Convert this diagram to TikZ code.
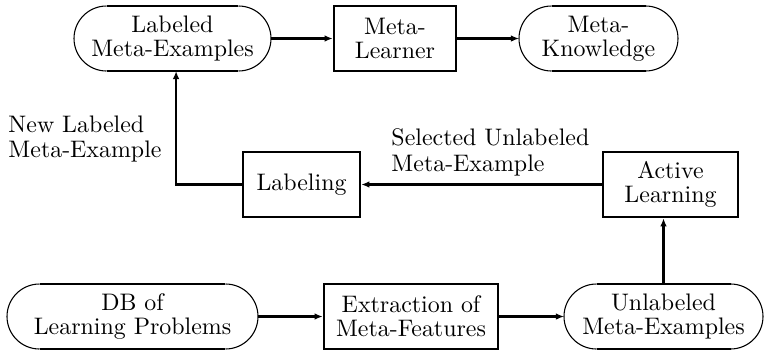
\documentclass[tikz,border=0pt]{standalone}
\usetikzlibrary{arrows.meta}
\def\u{0.4184pt}
\tikzset{
  txt/.style={font=\fontsize{10}{10.2}\selectfont, align=center},
  capsule/.style={txt, shape=rectangle, draw=none, minimum height=65*\u, outer sep=0pt, inner sep=2pt},
  boxnode/.style={txt, shape=rectangle, draw, line width=1.1pt, minimum height=65*\u, inner sep=2pt},
  thinline/.style={line width=0.45pt},
  thickline/.style={line width=1.1pt},
  arrow/.style={line width=1pt, -{Latex[length=3.4pt,width=2.8pt]}},
  lbl/.style={font=\fontsize{10}{10.6}\selectfont, align=left, inner sep=0pt, anchor=north west}
}
\newcommand\capsuleshape[1]{%
  \draw[thinline] ([xshift=13.6pt]#1.north west) arc[start angle=90,end angle=270,radius=13.6pt];
  \draw[thinline] ([xshift=-13.6pt]#1.south east) arc[start angle=-90,end angle=90,radius=13.6pt];
  \draw[thickline] ([xshift=13.6pt]#1.north west) -- ([xshift=-13.6pt]#1.north east);
  \draw[thickline] ([xshift=13.6pt]#1.south west) -- ([xshift=-13.6pt]#1.south east);
}
\begin{document}
\begin{tikzpicture}[x=\u,y=\u]
\useasboundingbox (0,0) rectangle (767,-351);
% nodes
\node[capsule, minimum width=197*\u] (lme) at (172.5,-38.5) {Labeled\\Meta-Examples};
\node[boxnode, minimum width=122*\u] (ml) at (395,-38.5) {Meta-\\Learner};
\node[capsule, minimum width=159*\u] (mk) at (598.5,-38.5) {Meta-\\Knowledge};
\node[boxnode, minimum width=117*\u] (lab) at (301.5,-184.5) {Labeling};
\node[boxnode, minimum width=135*\u] (al) at (670.5,-184.5) {Active\\Learning};
\node[capsule, minimum width=251*\u] (db) at (132.5,-316.5) {DB of\\Learning Problems};
\node[boxnode, minimum width=174*\u] (ex) at (411,-316.5) {Extraction of\\Meta-Features};
\node[capsule, minimum width=199*\u] (ume) at (663.5,-316.5) {Unlabeled\\Meta-Examples};
\capsuleshape{lme}
\capsuleshape{mk}
\capsuleshape{db}
\capsuleshape{ume}
% labels
\node[lbl] (newlbl) at (8,-115.1) {New Labeled\\Meta-Example};
\node[lbl] (sellbl) at (391,-128.4) {Selected Unlabeled\\Meta-Example};
% connectors
\draw[arrow] (lme) -- (ml);
\draw[arrow] (ml) -- (mk);
\draw[arrow] (db) -- (ex);
\draw[arrow] (ex) -- (ume);
\draw[arrow] (ume.north) -- (ume.north |- al.south);
\draw[arrow] (al) -- (lab);
\draw[arrow] (lab.west) -| ([xshift=1.5pt]lme.south);
\end{tikzpicture}
\end{document}
